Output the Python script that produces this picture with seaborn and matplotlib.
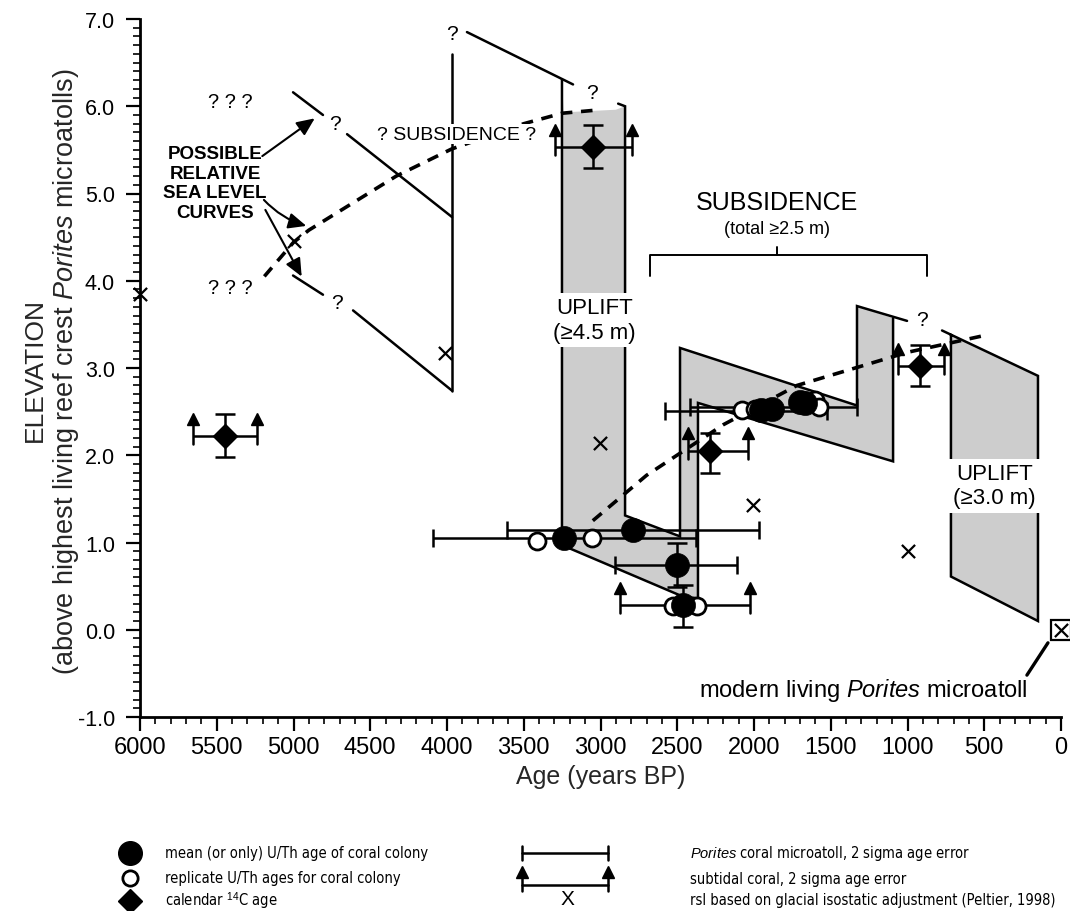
import numpy as np
import matplotlib
matplotlib.use("Agg")
import matplotlib.pyplot as plt
import seaborn as sns
from matplotlib.patches import Polygon

sns.set_theme(style="ticks")
plt.rcParams['font.family'] = ['Liberation Sans', 'DejaVu Sans']
plt.rcParams['mathtext.fontset'] = 'custom'
plt.rcParams['mathtext.rm'] = 'Liberation Sans'
plt.rcParams['mathtext.it'] = 'Liberation Sans:italic'
NARROW = ['Liberation Sans Narrow', 'Liberation Sans', 'DejaVu Sans']

# ------------------------------------------------------------------ data
# mean (or only) U/Th ages (filled circles)
uth_mean_age = [3236, 2788, 2502, 2460, 1955, 1880, 1700, 1670]
uth_mean_elev = [1.05, 1.14, 0.74, 0.28, 2.52, 2.53, 2.61, 2.60]
# vertical error for some U/Th means
uth_verr_age = [2502, 2460]
uth_verr_elev = [0.74, 0.28]
uth_verr_lo = [0.49, 0.03]
uth_verr_hi = [0.99, 0.51]
# replicate U/Th ages (open circles)
uth_rep_age = [3414, 3055, 2530, 2370, 2075, 1995, 1600, 1575]
uth_rep_elev = [1.02, 1.05, 0.27, 0.27, 2.52, 2.53, 2.63, 2.55]
# calendar 14C ages (diamonds) with 2 sigma errors
c14_age = [5446, 3049, 2287, 918]
c14_elev = [2.22, 5.53, 2.05, 3.02]
c14_elev_lo = [1.98, 5.29, 1.80, 2.79]
c14_elev_hi = [2.47, 5.78, 2.26, 3.26]
# subtidal coral, 2 sigma age error (bars with up arrows)
sub_age_old = [5655, 3296, 2430, 1062, 2873]
sub_age_young = [5238, 2795, 2039, 762, 2026]
sub_elev = [2.22, 5.53, 2.05, 3.02, 0.28]
# Porites microatoll, 2 sigma age error
por_age_old = [4091, 3609, 2906, 2580, 2417]
por_age_young = [2381, 1967, 2111, 1524, 1330]
por_elev = [1.05, 1.14, 0.74, 2.51, 2.55]
# rsl based on glacial isostatic adjustment (Peltier, 1998)
rsl_age = [6000, 5000, 4013, 3003, 2007, 997, 0]
rsl_elev = [3.85, 4.46, 3.17, 2.14, 1.43, 0.90, 0.0]
# dashed relative sea level curves
dash1_age = [5190, 5000, 4900, 4330, 3970, 3500, 3250, 3000]
dash1_elev = [4.05, 4.44, 4.58, 5.20, 5.51, 5.80, 5.92, 5.96]
dash2_age = [3050, 2700, 2200, 1720, 1000, 480]
dash2_elev = [1.25, 1.77, 2.35, 2.80, 3.18, 3.38]
# possible relative sea level curve segments (solid)
seg_age = [[5003, 4808], [4651, 3967], [5003, 4808], [4612, 3967],
           [3967, 3967], [3870, 3179]]
seg_elev = [[6.16, 5.90], [5.68, 4.73], [4.06, 3.84], [3.66, 2.74],
            [6.60, 2.74], [6.85, 6.25]]
# shaded microatoll envelope (zig-zag) and right block
env_age = [3251, 3251, 2463, 2365, 2365, 1094, 1094, 1329, 1329, 2482,
           2482, 2840, 2840, 2900, 3240]
env_elev = [6.31, 0.97, 0.38, 0.36, 2.60, 1.93, 3.57, 3.71, 2.57, 3.23,
            1.07, 1.31, 6.00, 5.96, 5.93]
blk_age = [717, 150, 150, 717]
blk_elev = [3.38, 2.91, 0.10, 0.61]
# outline polylines
edge_age = [[3251, 3251, 2463, 2365],
            [2885, 2840, 2840, 2482, 2482, 1329, 1329, 1003],
            [2365, 2365, 1094, 1094],
            [775, 150, 150, 717, 717]]
edge_elev = [[6.31, 0.97, 0.38, 0.36],
             [6.03, 6.00, 1.31, 1.07, 3.23, 2.57, 3.71, 3.54],
             [0.36, 2.60, 1.93, 3.57],
             [3.43, 2.91, 0.10, 0.61, 3.38]]
# subsidence bracket
brk_age = [2678, 2678, 873, 873]
brk_elev = [4.06, 4.29, 4.29, 4.06]
brk_mid_age = [1850, 1850]
brk_mid_elev = [4.29, 4.39]

x_ticks = list(range(0, 6001, 500))
y_ticks = [-1.0, 0.0, 1.0, 2.0, 3.0, 4.0, 5.0, 6.0, 7.0]

# ------------------------------------------------------------------ figure
W, H = 1070, 912
fig = plt.figure(figsize=(W / 100, H / 100), dpi=100)
ax = fig.add_axes([140 / W, (H - 718) / H, (1061 - 140) / W, (718 - 20) / H])
ax.set_facecolor('white')
GRAY = '#cdcdcd'
LW = 1.8

ax.add_patch(Polygon(np.column_stack([env_age, env_elev]), closed=True,
                     facecolor=GRAY, edgecolor='none', zorder=1))
ax.add_patch(Polygon(np.column_stack([blk_age, blk_elev]), closed=True,
                     facecolor=GRAY, edgecolor='none', zorder=1))
for a, e in zip(edge_age, edge_elev):
    ax.plot(a, e, color='black', lw=LW, zorder=2, solid_joinstyle='miter')
for a, e in zip(seg_age, seg_elev):
    ax.plot(a, e, color='black', lw=LW, zorder=2)
ax.plot(dash1_age, dash1_elev, color='black', lw=2.6, ls=(0, (3.2, 2.4)), zorder=3)
ax.plot(dash2_age, dash2_elev, color='black', lw=2.6, ls=(0, (3.2, 2.4)), zorder=3)
ax.plot(brk_age, brk_elev, color='black', lw=1.4, zorder=2)
ax.plot(brk_mid_age, brk_mid_elev, color='black', lw=1.4, zorder=2)

# Porites error bars
por_c = [(o + y) / 2 for o, y in zip(por_age_old, por_age_young)]
por_h = [(o - y) / 2 for o, y in zip(por_age_old, por_age_young)]
ax.errorbar(por_c, por_elev, xerr=por_h, fmt='none', ecolor='black',
            elinewidth=LW, capsize=6.5, capthick=LW, zorder=4)
# subtidal error bars with arrows
sub_c = [(o + y) / 2 for o, y in zip(sub_age_old, sub_age_young)]
sub_h = [(o - y) / 2 for o, y in zip(sub_age_old, sub_age_young)]
ax.errorbar(sub_c, sub_elev, xerr=sub_h, fmt='none', ecolor='black',
            elinewidth=LW, capsize=0, zorder=4)
for o, yg, e in zip(sub_age_old, sub_age_young, sub_elev):
    for xe in (o, yg):
        ax.plot([xe, xe], [e - 0.09, e + 0.16], color='black', lw=LW, zorder=4)
        ax.plot([xe], [e + 0.2], marker='^', ms=9, color='black', zorder=4)
# vertical errors
ax.errorbar(c14_age, c14_elev,
            yerr=[np.subtract(c14_elev, c14_elev_lo), np.subtract(c14_elev_hi, c14_elev)],
            fmt='none', ecolor='black', elinewidth=LW, capsize=7, capthick=LW, zorder=4)
ax.errorbar(uth_verr_age, uth_verr_elev,
            yerr=[np.subtract(uth_verr_elev, uth_verr_lo), np.subtract(uth_verr_hi, uth_verr_elev)],
            fmt='none', ecolor='black', elinewidth=LW, capsize=7, capthick=LW, zorder=4)

# points
sns.scatterplot(x=uth_rep_age, y=uth_rep_elev, ax=ax, marker='o', s=150,
                facecolor='white', edgecolor='black', linewidth=2, zorder=5, legend=False)
sns.scatterplot(x=uth_mean_age, y=uth_mean_elev, ax=ax, marker='o', s=300,
                color='black', edgecolor='black', linewidth=0.5, zorder=6, legend=False)
sns.scatterplot(x=c14_age, y=c14_elev, ax=ax, marker='D', s=150,
                color='black', edgecolor='black', zorder=6, legend=False)
sns.scatterplot(x=rsl_age, y=rsl_elev, ax=ax, marker='x', s=90,
                color='black', linewidth=1.6, zorder=6, legend=False, clip_on=False)
ax.plot([rsl_age[-1]], [rsl_elev[-1]], marker='s', ms=15, mfc='none', mec='black',
        mew=1.6, clip_on=False, zorder=6)
ax.plot([85, 222], [-0.15, -0.52], color='black', lw=2.4, clip_on=False)

# annotation text
TXT = dict(color='black', ha='center', va='center', zorder=7)
ax.text(5414, 6.05, '? ? ?', fontsize=14.5, **TXT)
ax.text(5414, 3.92, '? ? ?', fontsize=14.5, **TXT)
ax.text(5511, 5.12, 'POSSIBLE\nRELATIVE\nSEA LEVEL\nCURVES', fontsize=13.5,
        linespacing=1.2, fontweight='bold', **TXT)
arrow_kw = dict(arrowstyle='-|>,head_length=0.9,head_width=0.4', color='black', lw=1.5)
ax.annotate('', xy=(4847, 5.88), xytext=(5218, 5.41), arrowprops=arrow_kw)
ax.annotate('', xy=(4899, 4.62), xytext=(5205, 4.95),
            arrowprops=dict(arrow_kw, connectionstyle='arc3,rad=0.15'))
ax.annotate('', xy=(4938, 4.02), xytext=(5192, 4.84), arrowprops=arrow_kw)
ax.text(4730, 5.80, '?', fontsize=15, **TXT)
ax.text(4717, 3.75, '?', fontsize=15, **TXT)
ax.text(3967, 6.83, '?', fontsize=15, clip_on=False, **TXT)
ax.text(3055, 6.16, '?', fontsize=15, **TXT)
ax.text(905, 3.56, '?', fontsize=15, **TXT)
ax.text(3935, 5.68, '? SUBSIDENCE ?', fontsize=14,
        bbox=dict(facecolor='white', edgecolor='none', pad=1), **TXT)
ax.text(1850, 4.90, 'SUBSIDENCE', fontsize=18, **TXT)
ax.text(1850, 4.60, '(total \u22652.5 m)', fontsize=13, **TXT)
ax.text(3040, 3.55, 'UPLIFT\n(\u22654.5 m)', fontsize=16, linespacing=1.2,
        bbox=dict(facecolor='white', edgecolor='none', pad=3), **TXT)
ax.text(432, 1.65, 'UPLIFT\n(\u22653.0 m)', fontsize=16, linespacing=1.2,
        bbox=dict(facecolor='white', edgecolor='none', pad=3), **TXT)
ax.text(215, -0.68, r'modern living $\it{Porites}$ microatoll', fontsize=17,
        color='black', ha='right', va='center')

# axes styling
ax.set_xlim(6000, 0)
ax.set_ylim(-1, 7)
ax.set_xticks(x_ticks)
ax.set_xticklabels([str(t) for t in x_ticks], fontfamily=NARROW, fontsize=17)
ax.set_xticks(np.arange(0, 6001, 100), minor=True)
ax.set_yticks(y_ticks)
ax.set_yticklabels([f'{t:.1f}' for t in y_ticks], fontsize=15.5)
ax.set_yticks(np.arange(-1, 7.001, 0.1), minor=True)
for s in ('top', 'right'):
    ax.spines[s].set_visible(False)
for s in ('left', 'bottom'):
    ax.spines[s].set_linewidth(2)
    ax.spines[s].set_color('black')
ax.tick_params(which='major', direction='out', length=10, width=1.6, colors='black')
ax.tick_params(which='minor', direction='out', length=5, width=1.2, colors='black')
ax.tick_params(axis='y', which='major', pad=8)
ax.tick_params(axis='x', which='major', pad=4)
ax.grid(False)
ax.set_xlabel('Age (years BP)', fontfamily=NARROW, fontsize=18, labelpad=4)

fig.text(35 / W, 1 - 370 / H, 'ELEVATION', rotation=90, ha='center', va='center',
         fontsize=19)
fig.text(66 / W, 1 - 372 / H,
         r'(above highest living reef crest $\it{Porites}$ microatolls)',
         rotation=90, ha='center', va='center', fontsize=19.5)

# legend (drawn in its own pixel-space axes)
lax = fig.add_axes([0, 0, 1, 100 / H])
lax.set_xlim(0, W)
lax.set_ylim(H, H - 100)
lax.axis('off')
LF = dict(fontfamily=['DejaVu Sans'], fontstretch='condensed', fontsize=10.5,
          va='center', ha='left', color='black')
lax.plot([130], [854], marker='o', ms=17, color='black')
lax.text(165, 854, 'mean (or only) U/Th age of coral colony', **LF)
lax.plot([130], [879], marker='o', ms=11, mfc='white', mec='black', mew=2)
lax.text(165, 879, 'replicate U/Th ages for coral colony', **LF)
lax.plot([130], [902], marker='D', ms=12, color='black')
lax.text(165, 901, r'calendar $^{14}$C age', **LF)
lax.plot([522, 608], [854, 854], color='black', lw=1.8)
lax.plot([522, 522], [847, 861], color='black', lw=1.8)
lax.plot([608, 608], [847, 861], color='black', lw=1.8)
lax.text(690, 854, r'$\it{Porites}$ coral microatoll, 2 sigma age error', **LF)
lax.plot([522, 608], [886, 886], color='black', lw=1.8)
for xe in (522, 608):
    lax.plot([xe, xe], [892, 875], color='black', lw=1.8)
    lax.plot([xe], [873], marker='^', ms=9, color='black')
lax.text(690, 880, 'subtidal coral, 2 sigma age error', **LF)
lax.text(567, 900, 'X', fontsize=15, ha='center', va='center', color='black')
lax.text(690, 901, 'rsl based on glacial isostatic adjustment (Peltier, 1998)', **LF)

fig.savefig('out.png', dpi=100, facecolor='white')
